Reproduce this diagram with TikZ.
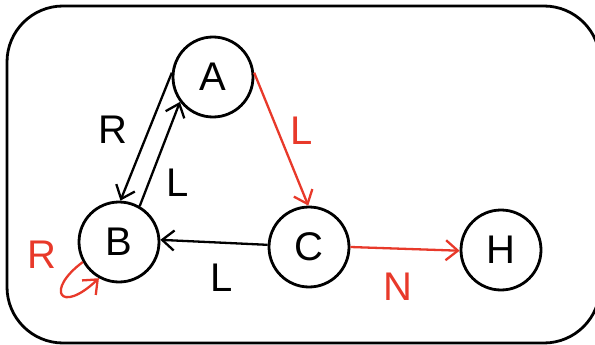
\documentclass[tikz,border=0pt]{standalone}
\usepackage{fontspec}
\setmainfont{Liberation Sans}
\usetikzlibrary{arrows.meta}
\definecolor{myred}{HTML}{E8392A}
\begin{document}
\begin{tikzpicture}[x=1pt,y=-1pt,
  state/.style={circle,draw=black,line width=2.8pt,minimum size=80pt,inner sep=0pt,font=\fontsize{40}{40}\selectfont},
  lab/.style={font=\fontsize{40}{40}\selectfont,inner sep=0pt},
  edge/.style={line width=2.3pt,-{Straight Barb[length=12pt,width=20pt,line width=2.3pt]}},
  rededge/.style={edge,draw=myred}]
\useasboundingbox (0,0) rectangle (595,345);
\draw[line width=2.8pt,rounded corners=56pt] (7,6) rectangle (600,343);
\node[state] (A) at (213,77) {A};
\node[state] (B) at (119,242) {B};
\node[state] (C) at (309,247) {C};
\node[state] (H) at (501,250) {H};
\draw[edge] (A.174) -- (B.88);
\draw[edge] (B.60) -- (A.217);
\draw[rededge] (A.6) -- (C.91);
\draw[edge] (C.177) -- (B.3);
\draw[rededge] (C.0) -- (H.181);
\draw[rededge] (B.209) .. controls (45,290) and (60,315) .. (B.241);
\node[lab] (lR1) at (113,130) {R};
\node[lab] (lL1) at (178,183) {L};
\node[lab,text=myred] (lL2) at (302,131) {L};
\node[lab] (lL3) at (222,278) {L};
\node[lab,text=myred] (lN) at (398,287) {N};
\node[lab,text=myred] (lR2) at (42,255) {R};
\end{tikzpicture}
\end{document}
